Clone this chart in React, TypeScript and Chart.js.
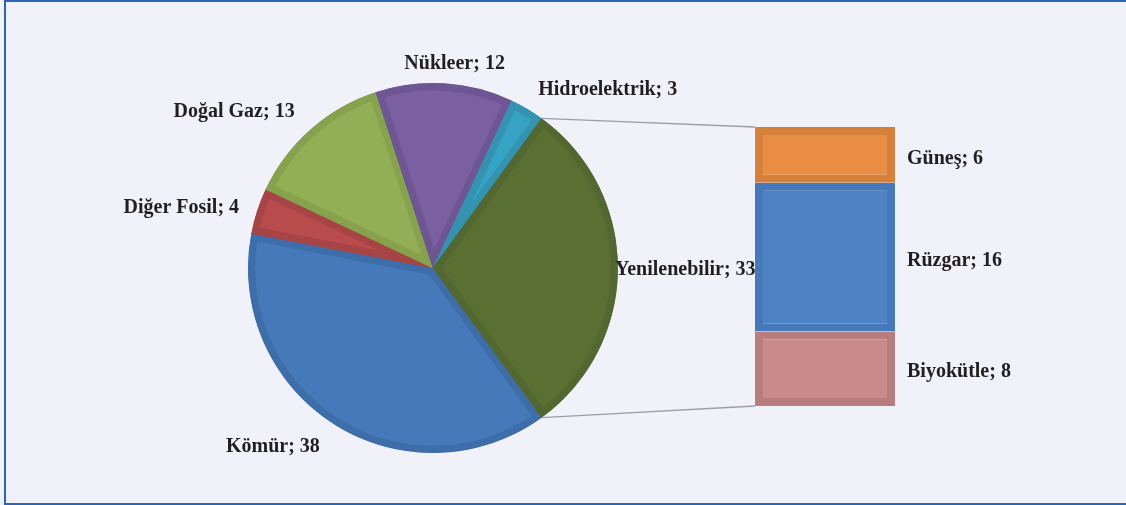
import React, { useEffect, useRef } from "react";
import { Chart, registerables } from "chart.js";

Chart.register(...registerables);

// ---- data ----
const pieCategories = ["Kömür", "Diğer Fosil", "Doğal Gaz", "Nükleer", "Hidroelektrik", "Yenilenebilir"];
const primaryValues = [38, 4, 13, 12, 3];
const pieLabelValues = [38, 4, 13, 12, 3, 33];
const subCategories = ["Güneş", "Rüzgar", "Biyokütle"];
const subValues = [6, 16, 8];

// ---- styles ----
const pieFill = ["#4679B9", "#B84B4C", "#93AF55", "#7A5FA1", "#37A3C4", "#5A6F32"];
const pieBorder = ["#3E6EAA", "#A64446", "#87A24D", "#6E5593", "#3393B1", "#536730"];
const subFill = ["#E98D45", "#4D82C4", "#C88A8B"];
const subBorder = ["#D5803B", "#4679BA", "#B87D7E"];
const BG = "#F0F1F9";
const FRAME = "#2E64B4";
const TEXT = "#231F20";
const FONT = 'bold 20px "Liberation Serif", "Times New Roman", serif';

// label placement relative to the slice's outer edge at its mid angle
const pieLabelLayout: { align: CanvasTextAlign; dx: number; dy: number }[] = [
  { align: "right", dx: -14, dy: 23 },
  { align: "right", dx: -18, dy: -3 },
  { align: "right", dx: -16, dy: -17 },
  { align: "center", dx: 10, dy: -19.5 },
  { align: "left", dx: 11, dy: -19 },
  { align: "left", dx: -3, dy: 2 },
];

const subTotal = subValues.reduce((a, b) => a + b, 0);
const pieValues = [...primaryValues, subTotal];

export default function App() {
  const pieRef = useRef<HTMLCanvasElement>(null);
  const barRef = useRef<HTMLCanvasElement>(null);

  useEffect(() => {
    const pieLabels = {
      id: "pieLabels",
      afterDatasetsDraw(chart: any) {
        const meta = chart.getDatasetMeta(0);
        const ctx = chart.ctx;
        ctx.save();
        ctx.font = FONT;
        ctx.fillStyle = TEXT;
        ctx.textBaseline = "middle";
        meta.data.forEach((arc: any, i: number) => {
          const p = arc.getProps(["x", "y", "startAngle", "endAngle", "outerRadius"], true);
          const mid = (p.startAngle + p.endAngle) / 2;
          const px = p.x + Math.cos(mid) * p.outerRadius;
          const py = p.y + Math.sin(mid) * p.outerRadius;
          const l = pieLabelLayout[i];
          ctx.textAlign = l.align;
          ctx.fillText(`${pieCategories[i]}; ${pieLabelValues[i]}`, px + l.dx, py + l.dy);
        });
        ctx.restore();
      },
    };

    const pie = new Chart(pieRef.current!, {
      type: "pie",
      data: {
        labels: pieCategories,
        datasets: [
          {
            data: pieValues,
            backgroundColor: pieFill,
            borderColor: pieBorder,
            borderWidth: 7,
            borderAlign: "inner",
            borderJoinStyle: "miter",
            rotation: 144,
            radius: 185,
          } as any,
        ],
      },
      options: {
        responsive: false,
        animation: false,
        rotation: 144,
        layout: { padding: { left: 0, right: 260, top: 31, bottom: 0 } },
        plugins: { legend: { display: false }, tooltip: { enabled: false } },
      } as any,
      plugins: [pieLabels],
    });

    const barOrder = [2, 1, 0]; // bottom to top: Biyokütle, Rüzgar, Güneş
    const connector = {
      id: "connector",
      afterDatasetsDraw(chart: any) {
        const ctx = chart.ctx;
        const arc: any = pie.getDatasetMeta(0).data[pieCategories.length - 1];
        const a = arc.getProps(["x", "y", "startAngle", "endAngle", "outerRadius"], true);
        const topBar: any = chart.getDatasetMeta(barOrder.length - 1).data[0];
        const botBar: any = chart.getDatasetMeta(0).data[0];
        const t = topBar.getProps(["x", "y", "base", "width"], true);
        const b = botBar.getProps(["x", "y", "base", "width"], true);
        ctx.save();
        ctx.strokeStyle = "#9E9EAA";
        ctx.lineWidth = 1.3;
        ctx.beginPath();
        ctx.moveTo(a.x + Math.cos(a.startAngle) * a.outerRadius, a.y + Math.sin(a.startAngle) * a.outerRadius);
        ctx.lineTo(t.x - t.width / 2, t.y);
        ctx.moveTo(a.x + Math.cos(a.endAngle) * a.outerRadius, a.y + Math.sin(a.endAngle) * a.outerRadius);
        ctx.lineTo(b.x - b.width / 2, b.base);
        ctx.stroke();

        ctx.font = FONT;
        ctx.fillStyle = TEXT;
        ctx.textBaseline = "middle";
        ctx.textAlign = "left";
        barOrder.forEach((src, di) => {
          const el: any = chart.getDatasetMeta(di).data[0];
          const p = el.getProps(["x", "y", "base", "width"], true);
          ctx.fillText(`${subCategories[src]}; ${subValues[src]}`, p.x + p.width / 2 + 12, (p.y + p.base) / 2 + 3.5);
        });
        ctx.restore();
      },
    };

    const bar = new Chart(barRef.current!, {
      type: "bar",
      data: {
        labels: ["Yenilenebilir"],
        datasets: barOrder.map((src) => ({
          label: subCategories[src],
          data: [subValues[src]],
          backgroundColor: subFill[src],
          borderColor: subBorder[src],
          borderWidth: 8,
          borderSkipped: false,
          inflateAmount: 0,
          barPercentage: 1,
          categoryPercentage: 1,
        })) as any,
      },
      options: {
        responsive: false,
        animation: false,
        layout: { padding: { left: 755, right: 231, top: 127, bottom: 99 } },
        scales: {
          x: { display: false, stacked: true },
          y: { display: false, stacked: true, min: 0, max: subTotal },
        },
        plugins: { legend: { display: false }, tooltip: { enabled: false } },
      } as any,
      plugins: [connector],
    });

    return () => {
      bar.destroy();
      pie.destroy();
    };
  }, []);

  return (
    <div style={{ position: "absolute", left: 0, top: 0, width: 1126, height: 505, overflow: "hidden", background: BG }}>
      <div
        style={{
          position: "absolute",
          left: 4,
          top: 0,
          width: 1200,
          height: 505,
          boxSizing: "border-box",
          border: `2px solid ${FRAME}`,
          background: BG,
        }}
      />
      <canvas ref={pieRef} width={1126} height={505} style={{ position: "absolute", left: 0, top: 0 }} />
      <canvas ref={barRef} width={1126} height={505} style={{ position: "absolute", left: 0, top: 0 }} />
    </div>
  );
}
